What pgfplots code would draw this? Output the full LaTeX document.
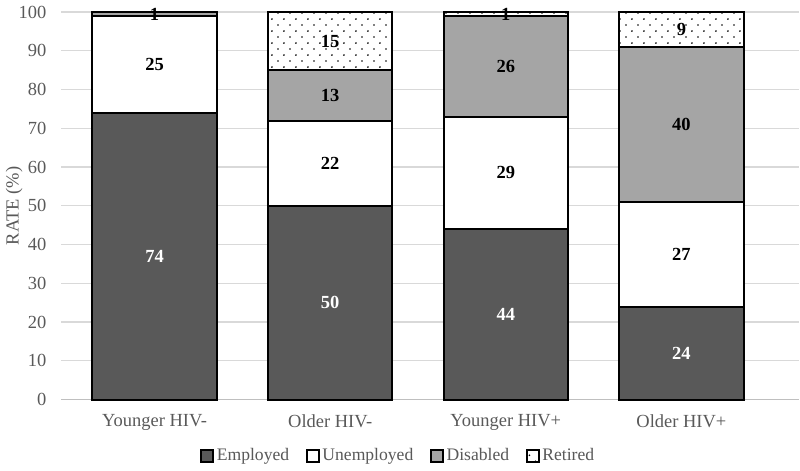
\documentclass[border=0pt]{standalone}
\usepackage{fontspec}
\setmainfont{Liberation Serif}
\usepackage{pgfplots}
\pgfplotsset{compat=1.18}
\usetikzlibrary{patterns.meta}

\definecolor{empc}{HTML}{595959}
\definecolor{disc}{HTML}{A5A5A5}
\definecolor{txtc}{HTML}{595959}
\definecolor{gridc}{HTML}{D9D9D9}
\definecolor{axc}{HTML}{BFBFBF}

% sparse staggered dots, like the Excel pattern
\tikzdeclarepattern{
  name=sparsedots,
  type=uncolored,
  bounding box={(0,0) and (6.8pt,6.8pt)},
  tile size={(6.8pt,6.8pt)},
  code={
    \pgfpathcircle{\pgfpoint{1.7pt}{1.7pt}}{0.55pt}
    \pgfpathcircle{\pgfpoint{5.1pt}{5.1pt}}{0.55pt}
    \pgfusepath{fill}
  }
}

\begin{document}
\begin{tikzpicture}
\begin{axis}[
    ybar stacked,
    x=3.508cm, y=0.0774cm,
    bar width=2.48cm,
    xmin=-0.53, xmax=3.67,
    ymin=0, ymax=100,
    xtick={0,1,2,3},
    xticklabels={Younger HIV-, Older HIV-, Younger HIV+, Older HIV+},
    ytick={0,10,...,100},
    major tick length=0pt,
    ymajorgrids=true,
    grid style={gridc, line width=0.7pt},
    axis x line*=bottom,
    axis y line*=left,
    y axis line style={draw=none},
    x axis line style={axc, line width=1pt, -},
    /pgf/number format/assume math mode=true,
    tick label style={font=\fontsize{10.5}{12}\selectfont, text=txtc},
    yticklabel style={xshift=-5pt},
    xticklabel style={yshift=-5pt},
    ylabel={RATE (\%)},
    every axis y label/.style={at={(axis description cs:-0.0640,0.5)}, rotate=90, anchor=center,
        font=\fontsize{10.5}{12}\selectfont, text=txtc},
    legend style={at={(axis description cs:0.457,-0.145)}, anchor=center,
        legend columns=-1, draw=none, font=\fontsize{10}{12}\selectfont,
        nodes={text=txtc, inner xsep=1.5pt},
        /tikz/every even column/.append style={column sep=8pt}},
    legend image code/.code={\draw[#1, line width=1.1pt] (0pt,-3.4pt) rectangle (6.8pt,3.4pt);},
    clip=false,
    visualization depends on={rawy \as \rawy},
    nodes near coords={\ifdim\rawy pt>0pt \pgfmathprintnumber[fixed,precision=0]{\rawy}\fi},
    every node near coord/.append style={anchor=center,
        font=\fontsize{10.5}{12}\selectfont\bfseries},
]

\addplot[fill=empc, draw=black, line width=1.1pt,
    every node near coord/.append style={text=white}]
  coordinates {(0,74) (1,50) (2,44) (3,24)};

\addplot[fill=white, draw=black, line width=1.1pt,
    every node near coord/.append style={text=black}]
  coordinates {(0,25) (1,22) (2,29) (3,27)};

\addplot[fill=disc, draw=black, line width=1.1pt,
    every node near coord/.append style={text=black}]
  coordinates {(0,1) (1,13) (2,26) (3,40)};

\addplot[fill=white, draw=black, line width=1.1pt,
    postaction={pattern=sparsedots, pattern color=black},
    every node near coord/.append style={text=black}]
  coordinates {(0,0) (1,15) (2,1) (3,9)};

\legend{Employed, Unemployed, Disabled, Retired}
\end{axis}
\end{tikzpicture}
\end{document}
